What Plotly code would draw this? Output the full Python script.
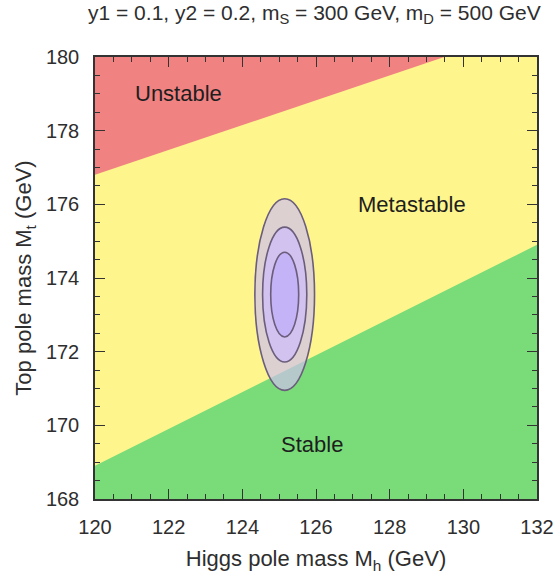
import plotly.graph_objects as go

# ---- data ----
mh_edges = [120.0, 132.0]              # Higgs pole mass range (GeV)
mt_unstable_edge = [176.8, 180.85]     # unstable / metastable boundary at mh_edges
mt_stable_edge = [168.9, 174.9]        # metastable / stable boundary at mh_edges
mt_range = [168.0, 180.0]

ellipse_center = (125.15, 173.55)      # (Mh, Mt)
ellipse_semi_mh = [0.81, 0.60, 0.38]   # 3, 2, 1 sigma
ellipse_semi_mt = [2.60, 1.83, 1.15]
ellipse_fills = ["rgba(206,192,238,0.70)", "#d2c2ef", "#c5b3f7"]

region_names = ["Unstable", "Metastable", "Stable"]
region_mh = [122.28, 128.61, 125.89]
region_mt = [179.02, 175.99, 169.49]

x_ticks = [120, 122, 124, 126, 128, 130, 132]
y_ticks = [168, 170, 172, 174, 176, 178, 180]

RED = "#f18282"
YELLOW = "#fef58c"
GREEN = "#79dc79"
FONT = "Liberation Sans, Arial, sans-serif"
TXT = "#2e2e2e"

fig = go.Figure()

# unstable region (above boundary)
fig.add_trace(go.Scatter(
    x=[mh_edges[0], mh_edges[1], mh_edges[1], mh_edges[0]],
    y=[mt_unstable_edge[0], mt_unstable_edge[1], mt_range[1] + 2, mt_range[1] + 2],
    fill="toself", fillcolor=RED, line=dict(width=0), mode="lines",
    hoverinfo="skip", showlegend=False))

# stable region (below boundary)
fig.add_trace(go.Scatter(
    x=[mh_edges[0], mh_edges[1], mh_edges[1], mh_edges[0]],
    y=[mt_stable_edge[0], mt_stable_edge[1], mt_range[0] - 2, mt_range[0] - 2],
    fill="toself", fillcolor=GREEN, line=dict(width=0), mode="lines",
    hoverinfo="skip", showlegend=False))

cx, cy = ellipse_center
for a, b, fc in zip(ellipse_semi_mh, ellipse_semi_mt, ellipse_fills):
    fig.add_shape(type="circle", xref="x", yref="y",
                  x0=cx - a, x1=cx + a, y0=cy - b, y1=cy + b,
                  fillcolor=fc, line=dict(color="#6b5d7c", width=1.6),
                  layer="above")

for name, x, y in zip(region_names, region_mh, region_mt):
    fig.add_annotation(x=x, y=y, text=name, showarrow=False,
                       font=dict(family=FONT, size=22, color="#1e1e1e"))

fig.add_annotation(
    xref="paper", yref="paper", x=(543 - 95) / 442, y=1 + (57 - 14) / 441,
    xanchor="right", yanchor="middle",
    text="y1 = 0.1, y2 = 0.2, m<sub>S</sub> = 300 GeV, m<sub>D</sub> = 500 GeV",
    showarrow=False, font=dict(family=FONT, size=21, color=TXT))

axis_common = dict(
    showgrid=False, zeroline=False, showline=True, linecolor="#333333", linewidth=1.5,
    mirror="allticks", ticks="inside", ticklen=10, tickwidth=1.3, tickcolor="#333333",
    tickfont=dict(family=FONT, size=20, color=TXT),
    minor=dict(ticks="inside", ticklen=5, tickwidth=1, tickcolor="#333333", dtick=0.5),
    automargin=False,
)

fig.update_xaxes(range=mh_edges, tickvals=x_ticks, ticktext=[str(v) for v in x_ticks],
                 title=dict(text="Higgs pole mass M<sub>h</sub> (GeV)",
                            font=dict(family=FONT, size=22, color=TXT), standoff=14),
                 ticklabelstandoff=9, **axis_common)
fig.update_yaxes(range=mt_range, tickvals=y_ticks, ticktext=[str(v) for v in y_ticks],
                 title=dict(text="Top pole mass M<sub>t</sub> (GeV)",
                            font=dict(family=FONT, size=22, color=TXT), standoff=8),
                 ticklabelstandoff=10, **axis_common)

fig.update_layout(
    width=557, height=578,
    margin=dict(l=95, r=20, t=57, b=79),
    plot_bgcolor=YELLOW, paper_bgcolor="white",
    showlegend=False,
)

fig.write_html("out.html")
